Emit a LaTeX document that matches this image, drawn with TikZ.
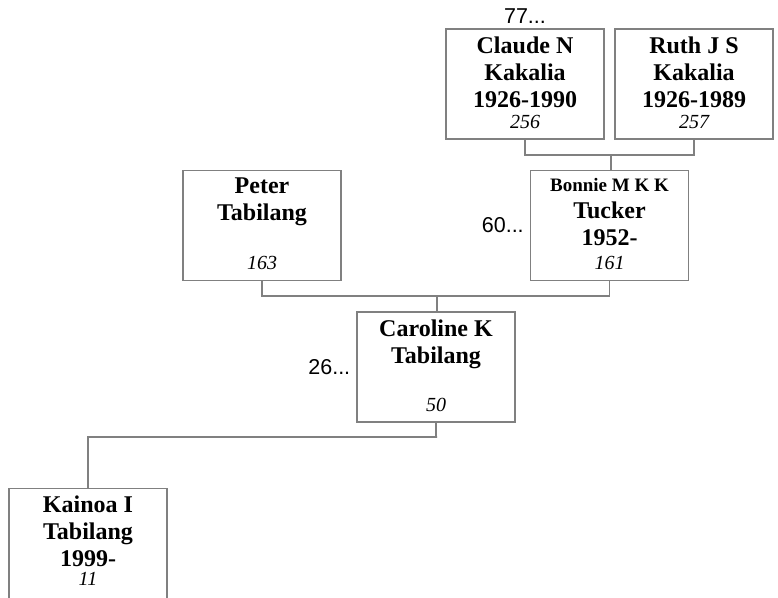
\documentclass[tikz,border=0pt]{standalone}
\usepackage{fontspec}
\setmainfont{Liberation Serif}
\setsansfont{Liberation Sans}
\usetikzlibrary{positioning}
\definecolor{boxgray}{RGB}{128,128,128}
% person box text: name lines on top, record number at the bottom
\newcommand\who[3][\vfill]{\parbox[c][110pt][t]{156pt}{\centering\vspace*{7.5pt}%
  \fontsize{24}{27}\selectfont\bfseries #2\par#1
  \fontsize{20}{21}\selectfont\mdseries\itshape #3\rule[-11pt]{0pt}{0pt}}}
\tikzset{
  person/.style={rectangle, draw=boxgray, line width=1.2pt, inner sep=0pt, minimum width=158pt, minimum height=110pt},
  link/.style={draw=boxgray, line width=1.2pt},
  more/.style={inner sep=0pt, font=\sffamily\fontsize{21.5}{24}\selectfont}
}
\begin{document}
\begin{tikzpicture}[x=1pt, y=-1pt]
  \clip (0,0) rectangle (778,597);

  % grandparents
  \node[person] (claude) at (525,84)   {\who{Claude N\\Kakalia\\1926-1990}{256}};
  \node[person] (ruth)   at (694,84)   {\who{Ruth J S\\Kakalia\\1926-1989}{257}};

  % parents
  \node[person] (peter)  at (262,225.5) {\who{Peter\\Tabilang}{163}};
  \node[person] (bonnie) at (609.5,225.5) {\who{{\fontsize{19}{22}\selectfont Bonnie M K K}\\Tucker\\1952-}{161}};

  % child and grandchild
  \node[person] (caroline) at (436,367) {\who{Caroline K\\Tabilang}{50}};
  \node[person] (kainoa)   at (88,543.5) {\who[\vspace{-2pt}]{Kainoa I\\Tabilang\\1999-}{11}};

  % continuation marks
  \node[more, above=5pt of claude] (m77) {77...};
  \node[more, left=6pt of bonnie] (m60) {60...};
  \node[more, left=6pt of caroline] (m26) {26...};

  % family links
  \coordinate (fam1) at (611,155);
  \coordinate (fam2) at (437,296);
  \coordinate (fam3) at (437,437);
  \draw[link] (claude.south) |- (fam1) -| (ruth.south);
  \draw[link] (fam1) -- (fam1 |- bonnie.north);
  \draw[link] (peter.south) |- (fam2) -| (bonnie.south);
  \draw[link] (fam2) -- (fam2 |- caroline.north);
  \draw[link] (caroline.south) |- (fam3) -| (kainoa.north);
\end{tikzpicture}
\end{document}
